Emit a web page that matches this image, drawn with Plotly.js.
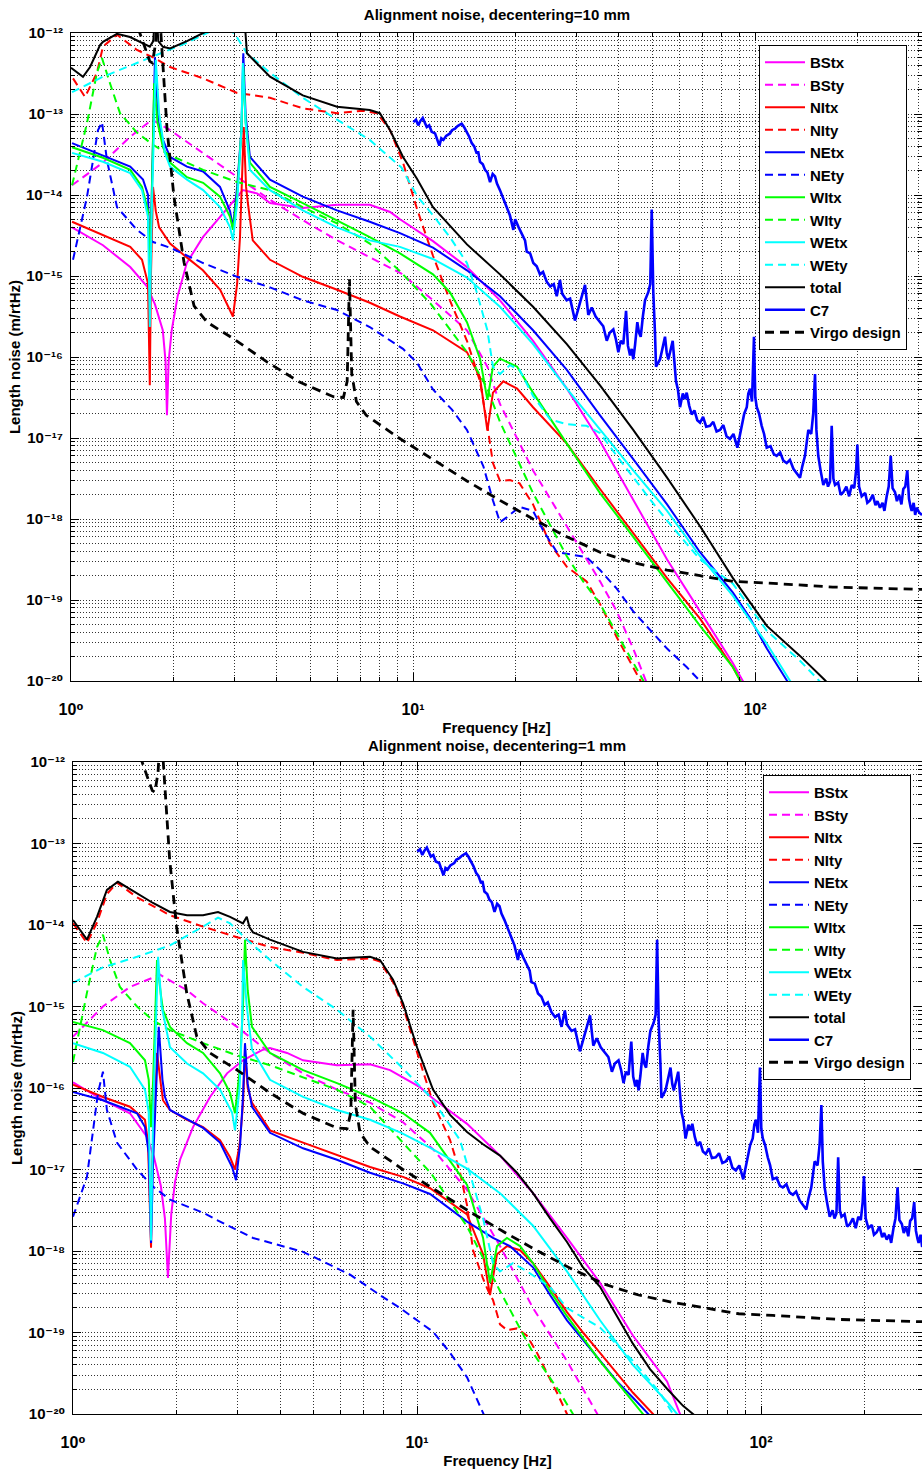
<!DOCTYPE html>
<html>
<head>
<meta charset="utf-8">
<script src="https://cdn.plot.ly/plotly-3.0.1.min.js"></script>
<style>html,body{margin:0;padding:0;background:#fff;}</style>
</head>
<body>
<div id="chart" style="width:922px;height:1473px;"></div>
<script>
// Frequency [Hz] and log10 of length noise [m/rtHz], one list of pairs per curve.

// ---- decentering = 10 mm ----
const BStx_10 = [[1.007,-14.40],[1.24,-14.62],[1.49,-14.89],[1.67,-15.13],[1.76,-15.35],[1.82,-15.55],[1.855,-15.67],[1.89,-16.05],[1.908,-16.72],[1.93,-16.05],[1.97,-15.67],[2.05,-15.25],[2.18,-14.84],[2.43,-14.52],[2.73,-14.27],[2.97,-14.09],[3.18,-13.94],[3.50,-13.98],[3.82,-14.10],[4.76,-14.16],[6.0,-14.12],[7.48,-14.12],[8.57,-14.21],[9.16,-14.30],[11.44,-14.57],[14.38,-14.89],[17.96,-15.30],[22.44,-15.80],[28.17,-16.39],[35.23,-17.04],[44.05,-17.77],[55.32,-18.50],[69.07,-19.14],[86.2,-19.78],[95,-20.1]];
const BSty_10 = [[1.007,-13.88],[1.24,-13.60],[1.49,-13.28],[1.725,-13.07],[1.95,-13.20],[2.43,-13.48],[3.06,-13.78],[3.82,-14.06],[4.76,-14.31],[6.0,-14.56],[7.48,-14.77],[9.25,-14.97],[11.44,-15.30],[14.38,-15.67],[16.5,-16.12],[17.96,-16.58],[22.44,-17.40],[28.17,-18.09],[35.23,-18.77],[39.42,-19.14],[44.05,-19.60],[48.5,-20.05]];
const NItx_10 = [[1.007,-14.33],[1.24,-14.49],[1.49,-14.64],[1.613,-14.80],[1.679,-15.09],[1.70,-16.35],[1.713,-15.0],[1.737,-13.90],[1.77,-14.20],[1.81,-14.40],[1.948,-14.60],[2.18,-14.77],[2.43,-14.93],[2.73,-15.17],[2.92,-15.42],[2.975,-15.50],[3.06,-15.10],[3.12,-14.52],[3.20,-13.16],[3.25,-13.90],[3.29,-14.10],[3.40,-14.56],[3.82,-14.80],[4.76,-15.01],[6.0,-15.17],[7.48,-15.33],[9.16,-15.50],[11.44,-15.67],[14.38,-15.94],[15.7,-16.25],[16.5,-16.91],[17.13,-16.44],[18.37,-16.30],[20.16,-16.39],[22.44,-16.62],[28.17,-17.07],[35.23,-17.63],[44.05,-18.17],[55.32,-18.73],[69.07,-19.23],[86.2,-19.83],[92,-20.05]];
const NIty_10 = [[1.0136,-12.56],[1.099,-12.79],[1.191,-12.49],[1.24,-12.17],[1.363,-12.02],[1.559,-12.21],[1.737,-12.30],[1.948,-12.42],[2.434,-12.56],[3.061,-12.74],[3.818,-12.80],[4.762,-12.93],[5.995,-12.99],[7.141,-12.96],[7.848,-12.99],[8.57,-13.20],[9.349,-13.60],[10.27,-14.17],[11.44,-14.75],[12.82,-15.30],[14.38,-15.80],[15.7,-16.30],[16.5,-16.85],[17.13,-17.31],[17.96,-17.53],[19.21,-17.52],[20.5,-17.56],[22.44,-17.82],[25.18,-18.31],[28.17,-18.59],[32.17,-18.77],[35.23,-19.05],[39.42,-19.46],[44.05,-19.83],[47,-20.05]];
const NEtx_10 = [[1.007,-13.36],[1.24,-13.51],[1.49,-13.65],[1.624,-13.81],[1.68,-14.0],[1.70,-15.0],[1.72,-14.0],[1.76,-12.30],[1.80,-13.10],[1.857,-13.32],[1.948,-13.53],[2.183,-13.65],[2.434,-13.71],[2.727,-13.90],[2.918,-14.20],[2.975,-14.40],[3.06,-13.90],[3.15,-13.20],[3.19,-12.25],[3.24,-13.0],[3.335,-13.53],[3.818,-13.81],[4.762,-14.02],[5.995,-14.19],[7.475,-14.33],[9.16,-14.47],[11.44,-14.65],[14.38,-14.93],[17.96,-15.25],[22.44,-15.67],[28.17,-16.16],[35.23,-16.72],[44.05,-17.26],[55.32,-17.82],[69.07,-18.41],[86.2,-18.91],[96.9,-19.23],[108.3,-19.60],[123.8,-19.99],[128,-20.1]];
const NEty_10 = [[1.0136,-14.80],[1.114,-14.02],[1.199,-13.20],[1.232,-13.10],[1.274,-13.57],[1.363,-14.15],[1.559,-14.43],[1.737,-14.58],[1.948,-14.65],[2.434,-14.84],[3.061,-15.01],[3.818,-15.14],[4.762,-15.30],[5.995,-15.42],[7.475,-15.63],[9.349,-15.90],[10.27,-16.07],[11.44,-16.40],[13.0,-16.65],[14.38,-16.90],[16.06,-17.35],[17.13,-17.77],[17.96,-18.04],[18.79,-17.98],[20.5,-17.85],[22.44,-17.90],[24.01,-18.14],[26.35,-18.41],[28.17,-18.43],[32.17,-18.47],[35.23,-18.63],[39.42,-18.86],[44.05,-19.14],[55.32,-19.60],[63.2,-19.83],[69.07,-20.0],[72,-20.1]];
const WItx_10 = [[1.007,-13.41],[1.24,-13.54],[1.49,-13.69],[1.613,-13.90],[1.68,-14.20],[1.70,-14.80],[1.72,-14.20],[1.75,-12.62],[1.79,-13.10],[1.857,-13.41],[1.948,-13.60],[2.183,-13.78],[2.434,-13.85],[2.727,-14.02],[2.918,-14.27],[2.975,-14.43],[3.06,-14.0],[3.15,-13.20],[3.19,-12.42],[3.24,-13.10],[3.335,-13.60],[3.818,-13.90],[4.762,-14.10],[5.995,-14.31],[7.475,-14.52],[9.16,-14.72],[11.44,-14.98],[12.82,-15.20],[14.38,-15.57],[15.7,-16.02],[16.5,-16.53],[17.13,-16.12],[17.96,-16.02],[20.16,-16.12],[22.44,-16.44],[28.17,-17.07],[35.23,-17.68],[44.05,-18.22],[55.32,-18.77],[69.07,-19.32],[86.2,-19.83],[92,-20.05]];
const WIty_10 = [[1.007,-13.88],[1.114,-13.11],[1.191,-12.49],[1.232,-12.31],[1.30,-12.62],[1.391,-12.99],[1.559,-13.23],[1.737,-13.38],[1.948,-13.51],[2.434,-13.69],[3.061,-13.84],[3.818,-13.94],[4.762,-14.15],[5.995,-14.35],[7.475,-14.60],[9.16,-14.94],[11.3,-15.35],[14.38,-15.94],[16.5,-16.39],[17.96,-16.80],[22.44,-17.68],[28.17,-18.46],[31.44,-18.77],[35.23,-19.05],[39.42,-19.41],[44.05,-19.78],[47.2,-20.0],[49,-20.1]];
const WEtx_10 = [[1.007,-13.48],[1.24,-13.59],[1.49,-13.73],[1.613,-13.94],[1.679,-14.27],[1.70,-15.63],[1.72,-14.30],[1.77,-12.33],[1.81,-13.0],[1.882,-13.48],[1.948,-13.65],[2.183,-13.81],[2.434,-13.94],[2.727,-14.15],[2.918,-14.40],[2.975,-14.56],[3.06,-14.10],[3.15,-13.20],[3.18,-12.37],[3.24,-13.10],[3.335,-13.69],[3.818,-13.94],[4.762,-14.19],[5.995,-14.40],[7.475,-14.56],[9.16,-14.64],[11.44,-14.79],[14.38,-15.02],[17.96,-15.38],[22.44,-15.84],[28.17,-16.39],[35.23,-16.90],[44.05,-17.40],[55.32,-17.90],[69.07,-18.46],[86.2,-18.95],[108.3,-19.54],[126.3,-19.99],[130,-20.08]];
const WEty_10 = [[1.007,-12.73],[1.24,-12.54],[1.559,-12.37],[1.783,-12.27],[2.183,-12.12],[2.497,-12.0],[2.75,-11.93],[3.0,-12.0],[3.1,-12.10],[3.269,-12.25],[3.818,-12.49],[4.762,-12.80],[5.995,-13.07],[7.475,-13.32],[9.25,-13.66],[10.27,-14.01],[11.44,-14.25],[12.82,-14.52],[14.38,-14.84],[15.36,-15.20],[16.5,-15.67],[17.13,-16.12],[17.96,-16.21],[19.21,-16.10],[20.5,-16.16],[22.44,-16.48],[25.18,-16.77],[28.17,-16.83],[32.17,-16.85],[35.23,-16.94],[39.42,-17.22],[44.05,-17.49],[49.6,-17.77],[55.32,-18.02],[69.07,-18.50],[86.2,-18.80],[108.3,-19.38],[135.4,-19.75],[154.8,-20.0],[160,-20.07]];
const total_10 = [[1.0,-12.43],[1.084,-12.54],[1.137,-12.42],[1.216,-12.15],[1.24,-12.11],[1.363,-12.01],[1.488,-12.05],[1.62,-12.13],[1.70,-12.17],[1.74,-12.10],[1.77,-11.60],[1.80,-12.10],[1.857,-12.17],[1.948,-12.19],[2.183,-12.10],[2.434,-12.0],[2.75,-11.90],[3.06,-11.98],[3.15,-11.90],[3.20,-11.70],[3.24,-12.10],[3.269,-12.25],[3.818,-12.54],[4.762,-12.77],[5.995,-12.91],[7.475,-12.95],[8.0,-12.99],[8.57,-13.20],[9.35,-13.53],[10.27,-13.80],[11.44,-14.15],[14.38,-14.61],[17.96,-14.98],[22.44,-15.38],[28.17,-15.84],[35.23,-16.35],[44.05,-16.90],[55.32,-17.49],[69.07,-18.09],[86.2,-18.73],[108.3,-19.32],[135.4,-19.69],[160.2,-19.99],[165,-20.05]];

// ---- decentering = 1 mm ----
const BStx_1 = [[1.0,-15.93],[1.222,-16.15],[1.464,-16.31],[1.641,-16.60],[1.72,-16.85],[1.80,-17.20],[1.85,-17.60],[1.888,-18.33],[1.93,-17.55],[1.98,-17.15],[2.047,-16.88],[2.233,-16.48],[2.502,-16.11],[2.804,-15.82],[3.121,-15.66],[3.567,-15.53],[3.738,-15.51],[4.19,-15.57],[4.664,-15.66],[5.853,-15.72],[7.3,-15.71],[8.348,-15.78],[10.2,-15.99],[11.13,-16.13],[13.98,-16.44],[17.43,-16.83],[21.74,-17.29],[27.29,-17.84],[34.04,-18.39],[42.46,-19.04],[53.32,-19.60],[58.16,-20.0],[60,-20.1]];
const BSty_1 = [[1.0,-15.37],[1.222,-15.0],[1.464,-14.76],[1.79,-14.61],[2.145,-14.80],[2.388,-14.96],[2.998,-15.25],[3.738,-15.57],[4.664,-15.82],[5.853,-16.02],[7.3,-16.18],[9.107,-16.42],[11.13,-16.75],[13.98,-17.25],[17.43,-17.94],[21.74,-18.70],[27.29,-19.35],[30.38,-19.69],[33.37,-20.0],[34.5,-20.1]];
const NItx_1 = [[1.0,-15.96],[1.222,-16.11],[1.464,-16.23],[1.619,-16.39],[1.652,-16.67],[1.686,-17.96],[1.70,-16.90],[1.755,-15.57],[1.80,-15.95],[1.826,-16.15],[1.914,-16.27],[2.145,-16.39],[2.388,-16.48],[2.675,-16.64],[2.861,-16.85],[2.958,-17.0],[3.05,-16.70],[3.12,-16.20],[3.162,-15.57],[3.22,-16.0],[3.314,-16.18],[3.738,-16.52],[4.664,-16.67],[5.853,-16.82],[7.3,-16.97],[9.107,-17.09],[10.91,-17.23],[13.98,-17.55],[15.56,-18.04],[16.3,-18.54],[17.08,-18.04],[18.26,-17.94],[19.93,-17.99],[21.74,-18.15],[24.36,-18.44],[27.29,-18.75],[30.38,-19.0],[34.04,-19.25],[38.14,-19.50],[42.46,-19.74],[48.53,-20.0],[50,-20.06]];
const NIty_1 = [[1.0,-13.98],[1.098,-14.22],[1.174,-13.97],[1.255,-13.62],[1.342,-13.48],[1.535,-13.66],[1.914,-13.88],[2.388,-14.02],[2.998,-14.15],[3.738,-14.27],[4.664,-14.34],[5.853,-14.43],[7.3,-14.41],[7.806,-14.45],[8.517,-14.70],[9.107,-15.0],[10.0,-15.56],[11.13,-16.18],[12.48,-16.64],[13.34,-17.04],[13.98,-17.44],[14.55,-17.99],[15.56,-18.34],[16.3,-18.54],[16.63,-18.60],[17.43,-18.90],[18.26,-18.97],[19.53,-18.95],[20.88,-19.04],[22.33,-19.25],[23.88,-19.50],[25.53,-19.74],[27.29,-20.0],[28,-20.1]];
const NEtx_1 = [[1.0,-16.05],[1.222,-16.15],[1.535,-16.31],[1.619,-16.48],[1.66,-16.80],[1.686,-17.90],[1.71,-16.90],[1.775,-15.25],[1.82,-15.90],[1.851,-16.11],[1.914,-16.27],[2.388,-16.49],[2.675,-16.67],[2.90,-16.97],[2.978,-17.13],[3.06,-16.70],[3.12,-16.10],[3.162,-15.45],[3.22,-15.95],[3.314,-16.23],[3.738,-16.55],[4.664,-16.74],[5.853,-16.88],[7.3,-17.04],[9.107,-17.17],[10.91,-17.30],[13.98,-17.64],[16.63,-17.84],[18.63,-17.94],[21.74,-18.20],[24.36,-18.54],[27.29,-18.85],[30.38,-19.09],[34.04,-19.35],[38.14,-19.60],[42.46,-19.80],[46.95,-20.0],[48.5,-20.06]];
const NEty_1 = [[1.0,-17.58],[1.098,-17.09],[1.182,-16.06],[1.222,-15.80],[1.255,-16.27],[1.342,-16.67],[1.535,-17.0],[1.708,-17.21],[1.914,-17.37],[2.388,-17.53],[2.622,-17.62],[3.337,-17.84],[4.664,-18.01],[6.39,-18.29],[7.8,-18.54],[8.925,-18.70],[11.13,-18.99],[12.48,-19.25],[13.98,-19.55],[15.56,-20.0],[16,-20.1]];
const WItx_1 = [[1.0,-15.19],[1.222,-15.29],[1.464,-15.45],[1.619,-15.66],[1.66,-15.90],[1.686,-16.48],[1.71,-15.90],[1.755,-14.43],[1.80,-14.85],[1.826,-15.04],[1.914,-15.25],[2.145,-15.45],[2.388,-15.57],[2.675,-15.82],[2.861,-16.06],[2.958,-16.31],[3.05,-15.80],[3.12,-15.0],[3.162,-14.18],[3.22,-14.80],[3.314,-15.25],[3.738,-15.57],[4.664,-15.78],[5.853,-15.94],[7.3,-16.11],[9.107,-16.31],[10.91,-16.55],[13.98,-17.19],[15.56,-17.84],[16.3,-18.39],[17.08,-17.94],[18.26,-17.84],[19.93,-17.94],[21.74,-18.15],[24.36,-18.49],[27.29,-18.80],[34.04,-19.35],[42.46,-19.85],[45.4,-20.0],[47,-20.08]];
const WIty_1 = [[1.0,-15.68],[1.098,-14.83],[1.174,-14.27],[1.222,-14.12],[1.281,-14.43],[1.369,-14.76],[1.535,-15.0],[1.708,-15.17],[1.914,-15.29],[2.388,-15.45],[2.998,-15.60],[3.738,-15.72],[4.664,-15.87],[5.853,-16.02],[7.3,-16.23],[9.0,-16.65],[11.0,-17.05],[13.98,-17.70],[17.43,-18.49],[21.74,-19.25],[26.05,-19.74],[28.41,-20.0],[29.5,-20.1]];
const WEtx_1 = [[1.0,-15.45],[1.222,-15.57],[1.464,-15.74],[1.619,-16.02],[1.66,-16.30],[1.686,-17.87],[1.71,-16.30],[1.767,-14.39],[1.81,-15.0],[1.876,-15.33],[1.914,-15.50],[2.145,-15.70],[2.388,-15.82],[2.675,-16.02],[2.90,-16.30],[2.958,-16.52],[3.05,-16.0],[3.10,-15.20],[3.121,-14.43],[3.20,-15.0],[3.314,-15.53],[3.738,-15.90],[4.664,-16.11],[5.853,-16.27],[7.3,-16.39],[9.0,-16.55],[11.0,-16.74],[13.98,-16.99],[17.43,-17.29],[21.74,-17.69],[27.29,-18.25],[34.04,-18.85],[42.46,-19.40],[53.32,-19.85],[57.0,-20.0],[59,-20.06]];
const WEty_1 = [[1.0,-14.71],[1.222,-14.52],[1.535,-14.39],[1.914,-14.25],[2.388,-14.02],[2.64,-13.91],[2.861,-13.98],[3.205,-14.18],[3.738,-14.43],[4.664,-14.76],[5.853,-15.04],[7.3,-15.37],[9.0,-15.74],[11.0,-16.12],[13.34,-16.64],[14.55,-17.19],[15.56,-17.60],[16.63,-18.15],[17.43,-18.25],[19.01,-18.15],[20.88,-18.25],[24.36,-18.44],[27.29,-18.70],[34.04,-18.94],[42.46,-19.35],[50.86,-19.74],[55.5,-20.0],[57,-20.06]];
const total_1 = [[1.0,-13.94],[1.048,-14.06],[1.098,-14.18],[1.174,-13.90],[1.255,-13.57],[1.351,-13.47],[1.535,-13.61],[1.708,-13.73],[1.914,-13.84],[2.145,-13.88],[2.388,-13.88],[2.64,-13.84],[2.861,-13.90],[3.12,-13.98],[3.20,-13.90],[3.26,-14.03],[3.337,-14.09],[3.738,-14.18],[4.664,-14.33],[5.853,-14.41],[7.3,-14.39],[7.806,-14.43],[8.517,-14.67],[9.107,-14.96],[10.0,-15.50],[11.13,-16.02],[12.48,-16.33],[13.98,-16.54],[15.56,-16.69],[17.43,-16.83],[19.53,-17.04],[21.74,-17.29],[24.36,-17.60],[27.29,-17.89],[30.38,-18.20],[34.04,-18.44],[38.14,-18.80],[42.46,-19.14],[47.58,-19.45],[53.32,-19.69],[59.34,-19.90],[63.44,-20.0],[66,-20.06]];

// ---- shared curves: C7 measured sensitivity and Virgo design ----
const C7 = [[10.02,-13.10],[10.2,-13.07],[10.36,-13.14],[10.5,-13.09],[10.68,-13.05],[10.8,-13.10],[10.97,-13.16],[11.15,-13.14],[11.34,-13.22],[11.6,-13.24],[11.8,-13.33],[11.94,-13.39],[12.1,-13.30],[12.27,-13.32],[12.5,-13.27],[12.83,-13.24],[13.0,-13.20],[13.27,-13.18],[13.5,-13.15],[13.88,-13.12],[14.1,-13.16],[14.36,-13.22],[14.6,-13.28],[14.85,-13.36],[15.1,-13.40],[15.36,-13.49],[15.5,-13.46],[15.70,-13.59],[16.0,-13.62],[16.24,-13.69],[16.5,-13.72],[16.80,-13.84],[17.1,-13.74],[17.37,-13.77],[17.6,-13.86],[17.96,-13.94],[18.3,-14.03],[18.79,-14.14],[19.2,-14.25],[19.65,-14.43],[19.9,-14.30],[20.32,-14.39],[20.8,-14.47],[21.26,-14.56],[21.51,-14.70],[22.0,-14.72],[22.48,-14.84],[23.0,-14.88],[23.51,-14.98],[24.0,-14.95],[24.60,-15.07],[25.2,-15.13],[25.8,-15.10],[26.32,-15.25],[26.9,-15.05],[27.3,-15.22],[28.14,-15.30],[28.8,-15.28],[29.76,-15.55],[30.4,-15.40],[31.14,-15.25],[31.84,-15.11],[32.55,-15.48],[33.31,-15.39],[34.2,-15.50],[35.23,-15.57],[36.0,-15.62],[36.86,-15.80],[37.6,-15.70],[38.53,-15.66],[39.2,-15.78],[39.85,-15.94],[40.5,-15.80],[41.21,-15.84],[41.97,-15.43],[42.5,-15.86],[43.12,-15.98],[43.6,-15.90],[44.07,-16.03],[44.6,-15.85],[45.28,-15.57],[45.8,-15.70],[46.33,-15.75],[47.0,-15.50],[47.69,-15.30],[48.75,-15.20],[49.4,-15.10],[49.89,-14.18],[50.42,-15.20],[51.0,-15.70],[51.35,-16.12],[52.0,-16.08],[52.75,-16.03],[53.6,-15.90],[54.56,-15.75],[55.2,-15.95],[55.78,-16.03],[56.6,-15.92],[57.46,-15.80],[58.1,-16.05],[58.75,-16.30],[59.5,-16.40],[60.36,-16.62],[61.5,-16.45],[62.3,-16.52],[63.14,-16.44],[64.2,-16.60],[65.30,-16.71],[66.5,-16.66],[67.8,-16.78],[69.07,-16.81],[70.5,-16.74],[72.0,-16.86],[73.87,-16.85],[75.5,-16.80],[77.2,-16.92],[79.0,-16.90],[80.8,-16.84],[82.6,-16.98],[84.5,-17.01],[86.5,-16.95],[88.8,-17.12],[90.0,-17.00],[91.4,-16.85],[93.0,-16.70],[94.6,-16.62],[95.6,-16.45],[96.7,-16.39],[98.0,-16.55],[99.3,-15.75],[100.2,-16.50],[101.2,-16.62],[102.8,-16.70],[104.6,-16.85],[106.3,-16.95],[108.2,-17.12],[111.0,-17.10],[113.5,-17.20],[115.7,-17.22],[118.5,-17.18],[121.0,-17.28],[123.8,-17.31],[126.5,-17.27],[129.5,-17.38],[132.4,-17.44],[135.4,-17.49],[137.5,-17.35],[140.0,-17.22],[143.2,-16.90],[146.0,-16.95],[148.0,-16.70],[149.8,-16.21],[151.2,-16.90],[153.1,-17.22],[155.5,-17.40],[158.4,-17.58],[161.5,-17.50],[163.5,-17.60],[165.7,-17.54],[167.6,-16.85],[169.5,-17.50],[171.4,-17.58],[175.0,-17.55],[178.0,-17.70],[181.2,-17.67],[185.0,-17.60],[188.5,-17.72],[191.8,-17.58],[195.0,-17.62],[197.5,-17.40],[199.2,-17.08],[201.5,-17.60],[205.1,-17.72],[210.0,-17.68],[213.0,-17.80],[216.9,-17.77],[221.0,-17.70],[225.0,-17.83],[228.0,-17.78],[232.0,-17.86],[236.0,-17.80],[239.0,-17.90],[242.7,-17.72],[246.0,-17.60],[249.4,-17.22],[252.5,-17.62],[256.7,-17.67],[260.0,-17.78],[264.0,-17.70],[268.0,-17.82],[271.4,-17.63],[275.0,-17.60],[278.8,-17.40],[282.0,-17.75],[285.0,-17.85],[287.2,-17.90],[291.0,-17.80],[294.0,-17.95],[297.0,-17.86],[302.0,-17.92],[307.8,-17.95]];
const virgoDesign = [[1.0,-10.5],[1.3,-11.2],[1.5,-11.7],[1.6,-12.05],[1.65,-12.20],[1.70,-12.35],[1.73,-12.37],[1.767,-12.13],[1.80,-11.5],[1.83,-12.0],[1.91,-13.20],[2.0,-14.02],[2.14,-14.83],[2.29,-15.37],[2.5,-15.57],[3.0,-15.78],[3.74,-16.06],[4.66,-16.31],[5.85,-16.49],[6.26,-16.50],[6.42,-16.30],[6.52,-15.04],[6.62,-16.20],[6.83,-16.55],[7.3,-16.72],[9.1,-17.0],[11.44,-17.26],[14.38,-17.53],[17.96,-17.77],[22.44,-18.0],[28.17,-18.22],[35.23,-18.41],[44.05,-18.54],[55.32,-18.63],[69.07,-18.70],[86.2,-18.77],[108.3,-18.79],[168.7,-18.84],[310,-18.87]];

// Axis tick labels (powers of ten)
const xTickVals = [1, 10, 100];
const xTickText = ['10\u2070', '10\u00b9', '10\u00b2'];
const yExponents = [-20, -19, -18, -17, -16, -15, -14, -13, -12];
const SUP = {'0':'\u2070','1':'\u00b9','2':'\u00b2','3':'\u00b3','4':'\u2074','5':'\u2075','6':'\u2076','7':'\u2077','8':'\u2078','9':'\u2079','-':'\u207b'};
const yTickText = yExponents.map(e => '10' + String(e).split('').map(c => SUP[c]).join(''));

// ---- styling ----
const curveOrder = ['BStx','BSty','NItx','NIty','NEtx','NEty','WItx','WIty','WEtx','WEty','total','C7','Virgo design'];
const DASH = '8px,5px';
const curveStyle = {
  'BStx': {color:'#ff00ff', dash:'solid', width:2},
  'BSty': {color:'#ff00ff', dash:DASH, width:2},
  'NItx': {color:'#ff0000', dash:'solid', width:2},
  'NIty': {color:'#ff0000', dash:DASH, width:2},
  'NEtx': {color:'#0000ff', dash:'solid', width:2},
  'NEty': {color:'#0000ff', dash:DASH, width:2},
  'WItx': {color:'#00ff00', dash:'solid', width:2},
  'WIty': {color:'#00ff00', dash:DASH, width:2},
  'WEtx': {color:'#00ffff', dash:'solid', width:2},
  'WEty': {color:'#00ffff', dash:DASH, width:2},
  'total': {color:'#000000', dash:'solid', width:2},
  'C7': {color:'#0000ff', dash:'solid', width:2.6},
  'Virgo design': {color:'#000000', dash:'9px,6px', width:2.8}
};

const series10 = {BStx:BStx_10, BSty:BSty_10, NItx:NItx_10, NIty:NIty_10, NEtx:NEtx_10, NEty:NEty_10,
  WItx:WItx_10, WIty:WIty_10, WEtx:WEtx_10, WEty:WEty_10, total:total_10, C7:C7, 'Virgo design':virgoDesign};
const series1 = {BStx:BStx_1, BSty:BSty_1, NItx:NItx_1, NIty:NIty_1, NEtx:NEtx_1, NEty:NEty_1,
  WItx:WItx_1, WIty:WIty_1, WEtx:WEtx_1, WEty:WEty_1, total:total_1, C7:C7, 'Virgo design':virgoDesign};

function buildTraces(series, xa, ya, legendId) {
  return curveOrder.map(function (name) {
    const pts = series[name];
    const st = curveStyle[name];
    return {
      type: 'scatter', mode: 'lines', name: name,
      x: pts.map(p => p[0]),
      y: pts.map(p => Math.pow(10, p[1])),
      xaxis: xa, yaxis: ya, legend: legendId,
      legendgroup: legendId + name,
      line: {color: st.color, dash: st.dash, width: st.width},
      hoverinfo: 'skip'
    };
  });
}

const traces = buildTraces(series10, 'x', 'y', 'legend').concat(buildTraces(series1, 'x2', 'y2', 'legend2'));

const FONT = 'Liberation Sans, Arial, Helvetica, DejaVu Sans, sans-serif';
const W = 922, H = 1473;

const minorX = [];
[1, 10, 100].forEach(d => { for (let k = 2; k <= 9; k++) minorX.push(k * d); });
const minorY = [];
yExponents.slice(0, -1).forEach(e => { for (let k = 2; k <= 9; k++) minorY.push(k * Math.pow(10, e)); });

const GRID = '#333333';
function xAxis(range, left, anchor) {
  return {
    type: 'log', range: range, domain: [left / W, 1], anchor: anchor,
    tickmode: 'array', tickvals: xTickVals, ticktext: xTickText,
    ticks: 'inside', ticklen: 8, tickwidth: 1, tickcolor: '#000',
    showline: true, linecolor: '#000', linewidth: 1, mirror: 'allticks',
    showgrid: true, gridcolor: GRID, gridwidth: 1, griddash: '1px,2px',
    minor: {tickmode: 'array', tickvals: minorX, ticks: 'inside', ticklen: 4, tickcolor: '#000',
            showgrid: true, gridcolor: GRID, gridwidth: 1, griddash: '1px,2px'},
    zeroline: false, ticklabelstandoff: 14,
    tickfont: {family: FONT, size: 16, color: '#000', weight: 'bold'},
    title: {text: 'Frequency [Hz]', standoff: 5, font: {family: FONT, size: 15, color: '#000', weight: 'bold'}}
  };
}
function yAxis(top, bottom, anchor) {
  return {
    type: 'log', range: [-20, -12], domain: [1 - bottom / H, 1 - top / H], anchor: anchor,
    tickmode: 'array', tickvals: yExponents.map(e => Math.pow(10, e)), ticktext: yTickText,
    ticks: 'inside', ticklen: 8, tickwidth: 1, tickcolor: '#000',
    showline: true, linecolor: '#000', linewidth: 1, mirror: 'allticks',
    showgrid: true, gridcolor: GRID, gridwidth: 1, griddash: '1px,2px',
    minor: {tickmode: 'array', tickvals: minorY, ticks: 'inside', ticklen: 4, tickcolor: '#000',
            showgrid: true, gridcolor: GRID, gridwidth: 1, griddash: '1px,2px'},
    zeroline: false, ticklabelstandoff: 4,
    tickfont: {family: FONT, size: 15, color: '#000', weight: 'bold'},
    title: {text: 'Length noise (m/rtHz)', standoff: 1, font: {family: FONT, size: 15, color: '#000', weight: 'bold'}}
  };
}
function legendBox(x, yTop) {
  return {
    x: x / W, y: 1 - yTop / H, xanchor: 'left', yanchor: 'top',
    bgcolor: '#ffffff', bordercolor: '#000', borderwidth: 1,
    font: {family: FONT, size: 15, color: '#000', weight: 'bold'},
    tracegroupgap: 1.5, itemwidth: 40, traceorder: 'normal'
  };
}

const layout = {
  width: W, height: H,
  margin: {l: 0, r: 0, t: 0, b: 0},
  paper_bgcolor: '#ffffff', plot_bgcolor: '#ffffff',
  font: {family: FONT, size: 15, color: '#000'},
  showlegend: true,
  title: {text: 'Alignment noise, decentering=10 mm', x: 497 / W, xanchor: 'center',
          y: 1 - 15 / H, yanchor: 'middle', xref: 'container', yref: 'container',
          font: {family: FONT, size: 15, color: '#000', weight: 'bold'}},
  xaxis: xAxis([0, 2.4883], 71, 'y'),
  yaxis: yAxis(33, 681, 'x'),
  xaxis2: xAxis([0, 2.468], 73, 'y2'),
  yaxis2: yAxis(762, 1414, 'x2'),
  legend: legendBox(759, 45),
  legend2: legendBox(763, 775),
  annotations: [{
    text: 'Alignment noise, decentering=1 mm', xref: 'paper', yref: 'paper',
    x: 497 / W, y: 1 - 745 / H, xanchor: 'center', yanchor: 'middle', showarrow: false,
    font: {family: FONT, size: 15, color: '#000', weight: 'bold'}
  }]
};

Plotly.newPlot('chart', traces, layout, {staticPlot: true, displayModeBar: false});
</script>
</body>
</html>
